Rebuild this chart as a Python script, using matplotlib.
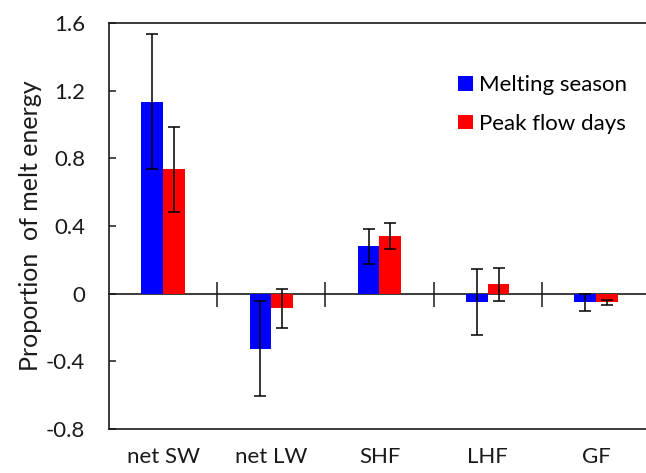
import numpy as np
import matplotlib
matplotlib.use("Agg")
import matplotlib.pyplot as plt

plt.rcParams['font.family'] = ['Lato', 'DejaVu Sans']
plt.rcParams['axes.unicode_minus'] = False

categories = ['net SW', 'net LW', 'SHF', 'LHF', 'GF']
melt_season = [1.135, -0.325, 0.28, -0.05, -0.05]
melt_err = [0.40, 0.28, 0.105, 0.197, 0.05]
peak_flow = [0.735, -0.085, 0.34, 0.055, -0.052]
peak_err = [0.25, 0.115, 0.075, 0.097, 0.015]
ytick_vals = [-0.8, -0.4, 0, 0.4, 0.8, 1.2, 1.6]
ytick_labels = ['-0.8', '-0.4', '0', '0.4', '0.8', '1.2', '1.6']

fig = plt.figure(figsize=(6.46, 4.73), dpi=100)
ax = fig.add_axes([0.1687, 0.093, 0.8375, 0.8584])

x = np.arange(len(categories))
w = 0.2
err_kw = dict(ecolor='black', elinewidth=1.1, capsize=4.5, capthick=1.1)
ax.bar(x - w / 2, melt_season, w, color='#0000ff', yerr=melt_err,
       error_kw=err_kw, label='Melting season')
ax.bar(x + w / 2, peak_flow, w, color='#ff0000', yerr=peak_err,
       error_kw=err_kw, label='Peak flow days')

ax.set_xlim(-0.5, len(categories) - 0.5)
ax.set_ylim(-0.8, 1.6)

for s in ax.spines.values():
    s.set_linewidth(1.2)
    s.set_color('#1a1a1a')

ax.set_yticks(ytick_vals)
ax.set_yticklabels(ytick_labels)
ax.tick_params(axis='y', direction='in', length=5, width=1.1, pad=17,
               labelsize=16, colors='#1a1a1a')
ax.set_xticks(x)
ax.set_xticklabels(categories)
ax.tick_params(axis='x', length=0, pad=13, labelsize=16, colors='#1a1a1a')

# zero line with category separators
zero = ax.secondary_xaxis(0.8 / 2.4)
zero.spines['bottom'].set_linewidth(1.2)
zero.spines['bottom'].set_color('#1a1a1a')
zero.set_xticks(x[:-1] + 0.5)
zero.set_xticklabels([])
zero.tick_params(direction='inout', length=18, width=1.1, colors='#1a1a1a')

ax.set_ylabel('Proportion  of melt energy', fontsize=18, color='#1a1a1a',
              labelpad=3)

ax.legend(loc='upper left', bbox_to_anchor=(0.692, 0.865),
          bbox_transform=fig.transFigure, frameon=False, fontsize=16,
          handlelength=0.65, handleheight=0.65, handletextpad=0.3,
          labelspacing=0.85, borderpad=0)

fig.savefig('out.png', dpi=100)
